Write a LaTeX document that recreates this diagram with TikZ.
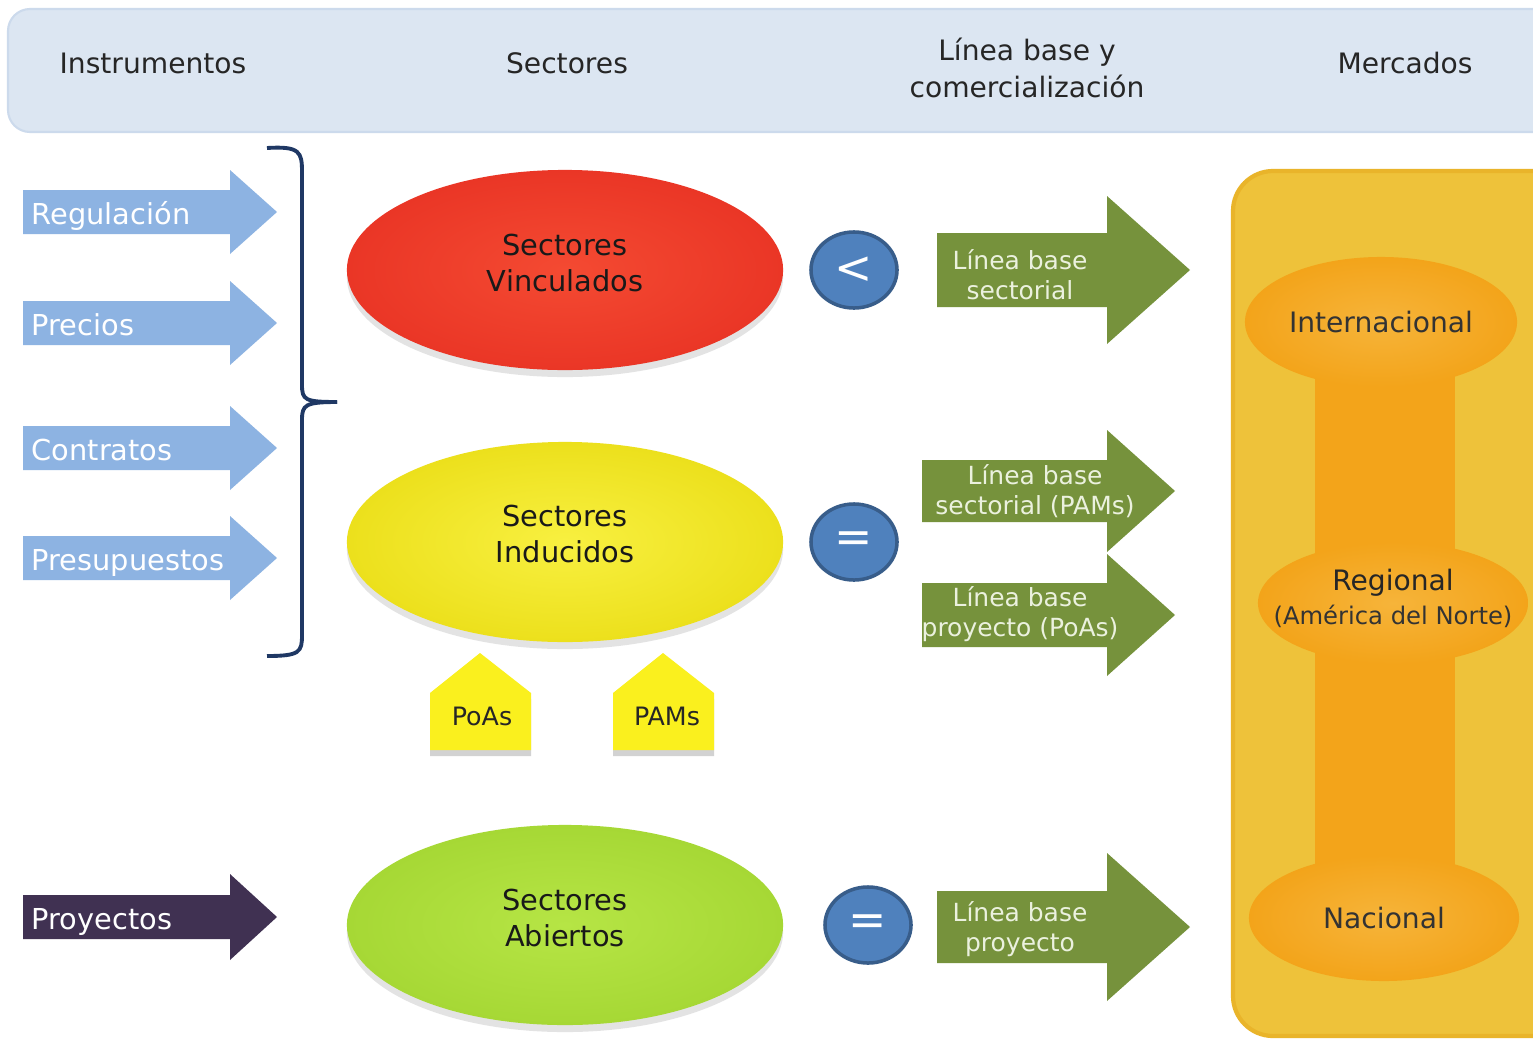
\documentclass[tikz,border=0pt]{standalone}
\usepackage{fontspec}
\setmainfont{DejaVu Sans}
\usetikzlibrary{shapes,arrows,positioning,calc,shadows}

\definecolor{cabecera}{HTML}{DCE6F2}
\definecolor{cabborde}{HTML}{CCDAEC}
\definecolor{azulflecha}{HTML}{8DB3E2}
\definecolor{morado}{HTML}{403152}
\definecolor{verdeflecha}{HTML}{76923C}
\definecolor{verdetexto}{HTML}{EBF1DE}
\definecolor{azulbola}{HTML}{4F81BD}
\definecolor{azulborde}{HTML}{385D8A}
\definecolor{llavecolor}{HTML}{1F3864}
\definecolor{rojo}{HTML}{F44A32}
\definecolor{rojoosc}{HTML}{EA3626}
\definecolor{amarillo}{HTML}{F8F040}
\definecolor{amarilloosc}{HTML}{ECE01C}
\definecolor{verdelima}{HTML}{B6E545}
\definecolor{verdelimaosc}{HTML}{A6D835}
\definecolor{oro}{HTML}{EEC23A}
\definecolor{oroosc}{HTML}{E9B42A}
\definecolor{naranja}{HTML}{F3A41A}
\definecolor{naranjaclaro}{HTML}{F6B43A}
\definecolor{casa}{HTML}{FAF01E}

% flecha de bloque: estilo, x cola, x base punta, x punta, y centro, medio cuerpo, media punta
\newcommand{\flecha}[7]{%
  \fill[#1] (#2,#5-#6) -- (#3,#5-#6) -- (#3,#5-#7) -- (#4,#5)
    -- (#3,#5+#7) -- (#3,#5+#6) -- (#2,#5+#6) -- cycle;}

\begin{document}
\begin{tikzpicture}[x=0.01cm, y=-0.01cm,
    titulo/.style={font=\fontsize{8}{10.3}\selectfont, text=black!85, align=center},
    sector/.style={ellipse, minimum width=4.36cm, minimum height=2cm, inner sep=0pt,
        drop shadow={shadow xshift=0cm, shadow yshift=-0.07cm, opacity=0.22}},
    sectortxt/.style={align=center, font=\fontsize{8.2}{10.3}\selectfont, text=black!90},
    signo/.style={ellipse, minimum width=0.86cm, minimum height=0.76cm, fill=azulbola,
        draw=azulborde, line width=1pt, text=white, font=\fontsize{13}{13}\selectfont, inner sep=0pt},
    instr/.style={anchor=west, text=white, font=\fontsize{8.2}{10}\selectfont, inner sep=0pt,
        text height=1.55ex, text depth=0.3ex},
    linea/.style={text=verdetexto, align=center, font=\fontsize{7.1}{8.6}\selectfont, inner sep=0pt},
    mercado/.style={ellipse, inner color=naranjaclaro, outer color=naranja, minimum width=2.7cm,
        minimum height=1.26cm, inner sep=0pt, align=center, text=black!80,
        font=\fontsize{8}{10}\selectfont},
    etiqueta/.style={font=\fontsize{7.2}{8}\selectfont, text=black!85, inner sep=0pt},
    llave/.style={draw=llavecolor, line width=1.1pt}
]
\useasboundingbox (0,0) rectangle (1533,1039);
\fill[white] (0,0) rectangle (1533,1039);

% cabecera
\draw[fill=cabecera, draw=cabborde, line width=0.6pt, rounded corners=0.22cm] (8,9) rectangle (1580,132);
\node[titulo] (hinst) at (153,63) {Instrumentos};
\node[titulo] (hsect) at (567,63) {Sectores};
\node[titulo] (hlinea) at (1027,68) {Línea base y\\comercialización};
\node[titulo] (hmerc) at (1405,63) {Mercados};

% instrumentos
\flecha{azulflecha}{23}{230}{277}{212}{22}{42}
\flecha{azulflecha}{23}{230}{277}{323}{22}{42}
\flecha{azulflecha}{23}{230}{277}{448}{22}{42}
\flecha{azulflecha}{23}{230}{277}{558}{22}{42}
\flecha{morado}{23}{230}{277}{917}{22}{43}
\node[instr] (reg) at (31,212) {Regulación};
\node[instr] (prec) at (31,323) {Precios};
\node[instr] (contr) at (31,448) {Contratos};
\node[instr] (presu) at (31,558) {Presupuestos};
\node[instr] (proy) at (31,917) {Proyectos};

% llave
\draw[llave] (267,148) .. controls (300,146) and (302,152) .. (302,172) -- (302,385)
  .. controls (302,400) and (305,402) .. (337,402);
\draw[llave] (337,402) .. controls (305,402) and (302,405) .. (302,420) -- (302,635)
  .. controls (302,652) and (300,656) .. (267,656);

% sectores
\node[sector, inner color=rojo, outer color=rojoosc] (vinc) at (565,270) {};
\node[sector, inner color=amarillo, outer color=amarilloosc] (induc) at (565,542) {};
\node[sector, inner color=verdelima, outer color=verdelimaosc] (abier) at (565,925) {};
\node[sectortxt] (vinctxt) at (565,263) {Sectores\\Vinculados};
\node[sectortxt] (inductxt) at (565,534) {Sectores\\Inducidos};
\node[sectortxt] (abiertxt) at (565,918) {Sectores\\Abiertos};

% signos
\node[signo] (menor) at (854,270) {<};
\node[signo] (igual1) at (854,542) {=};
\node[signo] (igual2) at (868,925) {=};

% linea base
\flecha{verdeflecha}{937}{1107}{1190}{270}{37}{74}
\flecha{verdeflecha}{922}{1107}{1175}{491}{31}{61}
\flecha{verdeflecha}{922}{1107}{1175}{615}{32}{61}
\flecha{verdeflecha}{937}{1107}{1190}{927}{36}{74}
\node[linea] (lbsect) at (1020,275) {Línea base\\sectorial};
\node[linea] (lbpams) at (1035,491) {Línea base\\sectorial (PAMs)};
\node[linea] (lbpoas) at (1020,614) {Línea base\\proyecto (PoAs)};
\node[linea] (lbproy) at (1020,929) {Línea base\\proyecto};

% PoAs y PAMs
\path[fill=casa, drop shadow={shadow xshift=0cm, shadow yshift=-0.06cm, opacity=0.35}]
  (430,693) -- (480,653) -- (531,693) -- (531,750) -- (430,750) -- cycle;
\path[fill=casa, drop shadow={shadow xshift=0cm, shadow yshift=-0.06cm, opacity=0.35}]
  (613,693) -- (663,653) -- (714,693) -- (714,750) -- (613,750) -- cycle;
\node[etiqueta] (poas) at (482,716) {PoAs};
\node[etiqueta] (pams) at (667,716) {PAMs};

% mercados
\draw[fill=oro, draw=oroosc, line width=1.2pt, rounded corners=0.4cm] (1233,171) rectangle (1580,1036);
\fill[naranja] (1315,330) rectangle (1455,900);
\node[mercado, minimum width=2.72cm, minimum height=1.3cm] (inter) at (1381,322) {Internacional};
\node[mercado, minimum height=1.22cm] (regio) at (1393,603) {};
\node[titulo] (regtxt) at (1393,583) {Regional};
\node[font=\fontsize{6.9}{8}\selectfont, text=black!80] (amnorte) at (1393,616) {(América del Norte)};
\node[mercado] (nacio) at (1384,918) {Nacional};
\end{tikzpicture}
\end{document}
